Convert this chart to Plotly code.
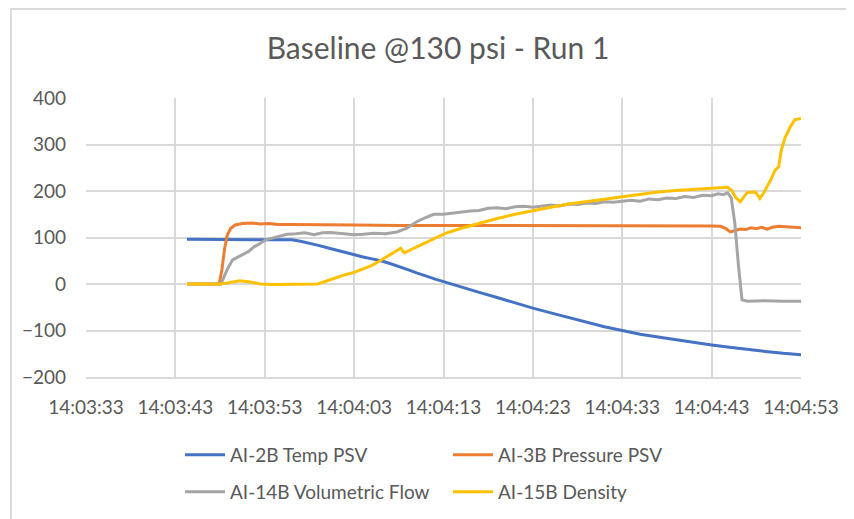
import pandas as pd
import plotly.graph_objects as go

BASE = "2021-01-01 14:03:33"

# seconds after 14:03:33
temp_t = [11.3, 20, 22, 23, 24, 25, 26, 27, 28, 29, 30, 31, 32, 33, 34, 35, 36, 37, 38, 39, 40,
          41, 42, 44, 46, 48, 50, 52, 54, 56, 58, 60, 62, 64, 66, 68, 70, 72, 74, 76, 78, 80]
temp_v = [96, 96, 96, 95, 92, 88, 83, 78, 73, 67, 62, 58, 54, 50, 44, 38, 31, 24, 17, 11, 5,
          -1, -7, -18, -29, -41, -52, -62, -72, -82, -92, -100, -108, -114, -120, -126, -131,
          -136, -141, -145, -149, -152]

press_t = [11.3, 14.9, 15.2, 15.5, 15.8, 16.2, 16.7, 17.5, 18.5, 19.5, 20.5, 21.5, 23, 26, 30, 35,
           40, 45, 50, 55, 60, 65, 70, 71, 71.6, 72.1, 72.6, 73.2, 73.8, 74.4, 75, 75.6, 76.2,
           76.8, 77.5, 78.3, 79.2, 80]
press_v = [0, 0, 30, 75, 105, 120, 127, 130, 131, 129, 130, 128, 128, 127, 127, 126,
           126, 125, 125, 125, 125, 125, 125, 124, 119, 112, 115, 118, 117, 121, 119, 122, 118,
           122, 124, 123, 122, 121]

flow_t = [11.3, 15.1, 15.5, 15.9, 16.4, 17.0, 17.7, 18.2, 18.8, 19.4, 20.1, 20.8, 21.5, 22.5, 23.5,
          24.5, 25.5, 26.5, 27.4, 28.3, 29.2, 30, 31, 32.2, 33.5, 34.8, 35.9, 37, 38, 38.9, 40,
          40.8, 42, 43, 44, 45, 46, 47, 48, 49, 50, 51, 52, 53, 54, 55, 56, 57, 58, 59, 60,
          61, 62, 63, 64, 65, 66, 67, 68, 69, 70, 70.7, 71.3, 71.8, 72.2, 72.6, 73.0, 73.4,
          74, 76, 78, 80]
flow_v = [0, 0, 18, 35, 52, 58, 66, 70, 80, 86, 95, 99, 102, 107, 108,
          110, 106, 110, 111, 109, 108, 106, 107, 109, 108, 112, 120, 134, 143, 150, 150,
          152, 154, 157, 158, 163, 164, 162, 166, 167, 165, 168, 170, 168, 172, 171, 174,
          173, 177, 176, 178, 180, 178, 183, 181, 185, 184, 188, 186, 191, 190, 194, 192,
          196, 185, 130, 40, -34, -37, -36, -37, -37]

dens_t = [11.3, 15, 16, 17.2, 18.2, 19.5, 21, 23, 25.9, 27, 28, 29, 30, 31, 32, 33, 34, 35.2,
          35.6, 36.5, 37.8, 39, 40.2, 42, 44, 46, 48, 50, 52, 54, 56, 58, 60, 62, 64, 66, 68,
          70, 71, 71.8, 72.3, 72.7, 73.2, 73.6, 74, 74.9, 75.4, 75.8, 76.2, 76.7, 77.1, 77.5,
          77.8, 78.2, 78.8, 79.3, 80]
dens_v = [0, 0, 3, 7, 5, 0, -1, -1, 0, 7, 14, 20, 25, 32, 40, 51, 62, 77,
          67, 75, 88, 98, 109, 120, 131, 141, 150, 158, 165, 172, 177, 183, 188, 193, 198, 201, 203,
          205, 207, 208, 200, 186, 177, 188, 197, 198, 184, 195, 209, 227, 245, 252,
          288, 314, 338, 353, 356]

names = ["AI-2B Temp PSV", "AI-3B Pressure PSV", "AI-14B Volumetric Flow", "AI-15B Density"]
colors = ["#4472C4", "#ED7D31", "#A5A5A5", "#FFC000"]
legend_ids = ["legend", "legend", "legend2", "legend2"]
series = [(temp_t, temp_v), (press_t, press_v), (flow_t, flow_v), (dens_t, dens_v)]

base = pd.Timestamp(BASE)
FONT = "Lato, Open Sans, sans-serif"
GREY_TXT = "#595959"
GRID = "#D9D9D9"

# page body has an 8px margin; figure coordinates are shifted accordingly
L, T, R, B = 78, 90, 61, 150
PW, PH = 854 - L - R, 519 - T - B
BOT = T + PH


def py(fig_y):
    return (BOT - fig_y) / PH


def px(fig_x):
    return (fig_x - L) / PW


fig = go.Figure()
for (t, v), name, c, lg in zip(series, names, colors, legend_ids):
    x = [base + pd.Timedelta(seconds=s) for s in t]
    fig.add_trace(go.Scatter(x=x, y=v, mode="lines", name=name, legend=lg,
                             line=dict(color=c, width=3)))

legend_common = dict(orientation="h", x=px(172), xanchor="left", yanchor="middle",
                     entrywidth=213, entrywidthmode="pixels", itemwidth=40,
                     font=dict(size=19, color=GREY_TXT, family=FONT),
                     bgcolor="rgba(0,0,0,0)")

fig.update_layout(
    width=854, height=519,
    margin=dict(l=L, r=R, t=T, b=B),
    paper_bgcolor="white", plot_bgcolor="white",
    font=dict(family=FONT, color=GREY_TXT, size=19),
    title=dict(text="Baseline @130 psi - Run 1", x=(438 - 8) / 854, xref="container",
               xanchor="center",
               y=1 - (48 - 8) / 519, yref="container", yanchor="middle",
               font=dict(size=30, color=GREY_TXT, family=FONT)),
    showlegend=True,
    legend=dict(legend_common, y=py(455 - 8)),
    legend2=dict(legend_common, y=py(492 - 8)),
    xaxis=dict(type="date",
               range=[base, base + pd.Timedelta(seconds=80)],
               tick0=base, dtick=10000, tickformat="%H:%M:%S",
               showgrid=True, gridcolor=GRID, gridwidth=1.5,
               showline=True, linecolor=GRID, linewidth=1.5,
               zeroline=False, ticks="", ticklabelstandoff=12,
               tickfont=dict(size=19, color=GREY_TXT)),
    yaxis=dict(range=[-200, 400], dtick=100, tick0=0,
               showgrid=True, gridcolor=GRID, gridwidth=1.5,
               zeroline=False, showline=False, ticks="", ticklabelstandoff=19,
               tickfont=dict(size=19, color=GREY_TXT)),
    shapes=[dict(type="rect", xref="paper", yref="paper",
                 x0=px(3), x1=px(880), y0=py(530), y1=py(1),
                 line=dict(color="#D0D0D0", width=1.5), fillcolor="rgba(0,0,0,0)",
                 layer="below")],
)

fig.write_html("out.html")
